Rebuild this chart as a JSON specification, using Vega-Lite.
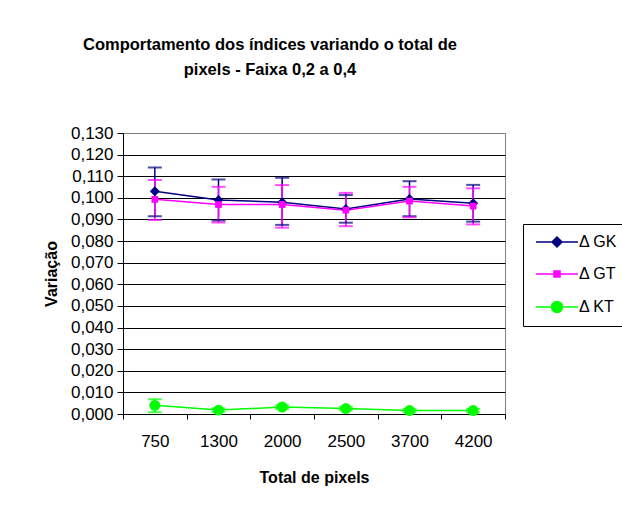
{
  "$schema": "https://vega.github.io/schema/vega-lite/v6.json",
  "autosize": "none",
  "width": 382,
  "height": 281,
  "padding": {"left": 123, "top": 133, "right": 117, "bottom": 95},
  "background": "white",
  "title": {
    "text": ["Comportamento dos índices variando o total de", "pixels - Faixa 0,2 a 0,4"],
    "font": "Liberation Sans",
    "fontSize": 16.5,
    "fontWeight": "bold",
    "color": "black",
    "anchor": "middle",
    "dx": -44,
    "lineHeight": 25,
    "offset": 46
  },
  "config": {
    "view": {"stroke": "#808080", "strokeWidth": 1},
    "font": "Liberation Sans",
    "axisY": {
      "titleFont": "Liberation Sans",
      "titleFontSize": 16,
      "titleFontWeight": "bold",
      "titleColor": "black",
      "titlePadding": 11,
      "labelFont": "Liberation Sans",
      "labelFontSize": 17,
      "labelColor": "black",
      "labelPadding": 4,
      "labelOverlap": false,
      "tickSize": 6,
      "tickColor": "black",
      "domainColor": "black",
      "grid": true,
      "gridOpacity": 1
    }
  },
  "data": {
    "values": [
      {"serie": "Δ GK", "pixels": "750", "v": 0.1030, "lo": 0.0915, "hi": 0.1140},
      {"serie": "Δ GK", "pixels": "1300", "v": 0.0990, "lo": 0.0895, "hi": 0.1085},
      {"serie": "Δ GK", "pixels": "2000", "v": 0.0980, "lo": 0.0875, "hi": 0.1093},
      {"serie": "Δ GK", "pixels": "2500", "v": 0.0948, "lo": 0.0885, "hi": 0.1013},
      {"serie": "Δ GK", "pixels": "3700", "v": 0.0995, "lo": 0.0915, "hi": 0.1077},
      {"serie": "Δ GK", "pixels": "4200", "v": 0.0975, "lo": 0.0890, "hi": 0.1060},
      {"serie": "Δ GT", "pixels": "750", "v": 0.0993, "lo": 0.0897, "hi": 0.1082},
      {"serie": "Δ GT", "pixels": "1300", "v": 0.0969, "lo": 0.0886, "hi": 0.1051},
      {"serie": "Δ GT", "pixels": "2000", "v": 0.0969, "lo": 0.0862, "hi": 0.1059},
      {"serie": "Δ GT", "pixels": "2500", "v": 0.0943, "lo": 0.0869, "hi": 0.1023},
      {"serie": "Δ GT", "pixels": "3700", "v": 0.0985, "lo": 0.0910, "hi": 0.1051},
      {"serie": "Δ GT", "pixels": "4200", "v": 0.0962, "lo": 0.0877, "hi": 0.1044},
      {"serie": "Δ KT", "pixels": "750", "v": 0.0040, "lo": 0.0008, "hi": 0.0068},
      {"serie": "Δ KT", "pixels": "1300", "v": 0.0018, "lo": 0.0010, "hi": 0.0026},
      {"serie": "Δ KT", "pixels": "2000", "v": 0.0032, "lo": 0.0024, "hi": 0.0040},
      {"serie": "Δ KT", "pixels": "2500", "v": 0.0025, "lo": 0.0017, "hi": 0.0033},
      {"serie": "Δ KT", "pixels": "3700", "v": 0.0016, "lo": 0.0008, "hi": 0.0024},
      {"serie": "Δ KT", "pixels": "4200", "v": 0.0016, "lo": 0.0008, "hi": 0.0024}
    ]
  },
  "encoding": {
    "x": {
      "field": "pixels",
      "type": "ordinal",
      "sort": ["750", "1300", "2000", "2500", "3700", "4200"],
      "scale": {"type": "band", "paddingInner": 0, "paddingOuter": 0},
      "axis": {
        "title": "Total de pixels",
        "titleFont": "Liberation Sans",
        "titleFontSize": 16,
        "titleFontWeight": "bold",
        "titleColor": "black",
        "titlePadding": 20,
        "labelFont": "Liberation Sans",
        "labelFontSize": 17,
        "labelColor": "black",
        "labelAngle": 0,
        "labelPadding": 14,
        "tickBand": "extent",
        "tickSize": 5,
        "tickColor": "black",
        "domainColor": "black",
        "grid": false
      }
    },
    "color": {
      "field": "serie",
      "type": "nominal",
      "scale": {"domain": ["Δ GK", "Δ GT", "Δ KT"], "range": ["#000080", "#FF00FF", "#00FF00"]},
      "legend": {
        "title": null,
        "orient": "none",
        "legendX": 400,
        "legendY": 91,
        "direction": "vertical",
        "fillColor": "white",
        "strokeColor": "black",
        "padding": 10,
        "rowPadding": 16,
        "symbolSize": 100,
        "symbolOffset": 16,
        "symbolStrokeWidth": 1.5,
        "labelOffset": 14,
        "labelFont": "Liberation Sans",
        "labelFontSize": 16,
        "labelColor": "black",
        "encode": {
          "symbols": {
            "update": {
              "shape": {"signal": "datum.value === 'Δ GK' ? 'M-4.2,0L4.2,0M0,-1L1,0L0,1L-1,0Z' : (datum.value === 'Δ GT' ? 'M-4.2,0L4.2,0M-0.6,-0.6L0.6,-0.6L0.6,0.6L-0.6,0.6Z' : 'M-4.2,0L4.2,0M1.1,0A1.1,1.1 0 1,1 -1.1,0A1.1,1.1 0 1,1 1.1,0Z')"}
            }
          }
        }
      }
    },
    "y": {
      "field": "v",
      "type": "quantitative",
      "scale": {"domain": [0, 0.13], "nice": false},
      "axis": {
        "title": "Variação",
        "values": [0, 0.01, 0.02, 0.03, 0.04, 0.05, 0.06, 0.07, 0.08, 0.09, 0.1, 0.11, 0.12, 0.13],
        "labelExpr": "replace(format(datum.value, '.3f'), '.', ',')",
        "gridColor": {"condition": {"test": "datum.value >= 0.129", "value": "#808080"}, "value": "black"}
      }
    }
  },
  "layer": [
    {
      "mark": {"type": "rule", "strokeWidth": 1.5},
      "encoding": {
        "y": {"field": "lo", "type": "quantitative", "scale": {"domain": [0, 0.13], "nice": false},
          "axis": {
            "title": "Variação",
            "values": [0, 0.01, 0.02, 0.03, 0.04, 0.05, 0.06, 0.07, 0.08, 0.09, 0.1, 0.11, 0.12, 0.13],
            "labelExpr": "replace(format(datum.value, '.3f'), '.', ',')",
            "gridColor": {"condition": {"test": "datum.value >= 0.129", "value": "#808080"}, "value": "black"}
          }},
        "y2": {"field": "hi"}
      }
    },
    {
      "mark": {"type": "tick", "size": 14, "thickness": 2},
      "encoding": {"y": {"field": "lo", "type": "quantitative", "scale": {"domain": [0, 0.13], "nice": false},
          "axis": {
            "title": "Variação",
            "values": [0, 0.01, 0.02, 0.03, 0.04, 0.05, 0.06, 0.07, 0.08, 0.09, 0.1, 0.11, 0.12, 0.13],
            "labelExpr": "replace(format(datum.value, '.3f'), '.', ',')",
            "gridColor": {"condition": {"test": "datum.value >= 0.129", "value": "#808080"}, "value": "black"}
          }}}
    },
    {
      "mark": {"type": "tick", "size": 14, "thickness": 2},
      "encoding": {"y": {"field": "hi", "type": "quantitative", "scale": {"domain": [0, 0.13], "nice": false},
          "axis": {
            "title": "Variação",
            "values": [0, 0.01, 0.02, 0.03, 0.04, 0.05, 0.06, 0.07, 0.08, 0.09, 0.1, 0.11, 0.12, 0.13],
            "labelExpr": "replace(format(datum.value, '.3f'), '.', ',')",
            "gridColor": {"condition": {"test": "datum.value >= 0.129", "value": "#808080"}, "value": "black"}
          }}}
    },
    {
      "mark": {"type": "line", "strokeWidth": 1.5},
      "encoding": {}
    },
    {
      "transform": [{"filter": "datum.serie === 'Δ GK'"}],
      "mark": {"type": "point", "shape": "diamond", "size": 100, "filled": true, "opacity": 1},
      "encoding": {}
    },
    {
      "transform": [{"filter": "datum.serie === 'Δ GT'"}],
      "mark": {"type": "point", "shape": "square", "size": 45, "filled": true, "opacity": 1},
      "encoding": {}
    },
    {
      "transform": [{"filter": "datum.serie === 'Δ KT'"}],
      "mark": {"type": "point", "shape": "circle", "size": 120, "filled": true, "opacity": 1},
      "encoding": {}
    }
  ]
}
